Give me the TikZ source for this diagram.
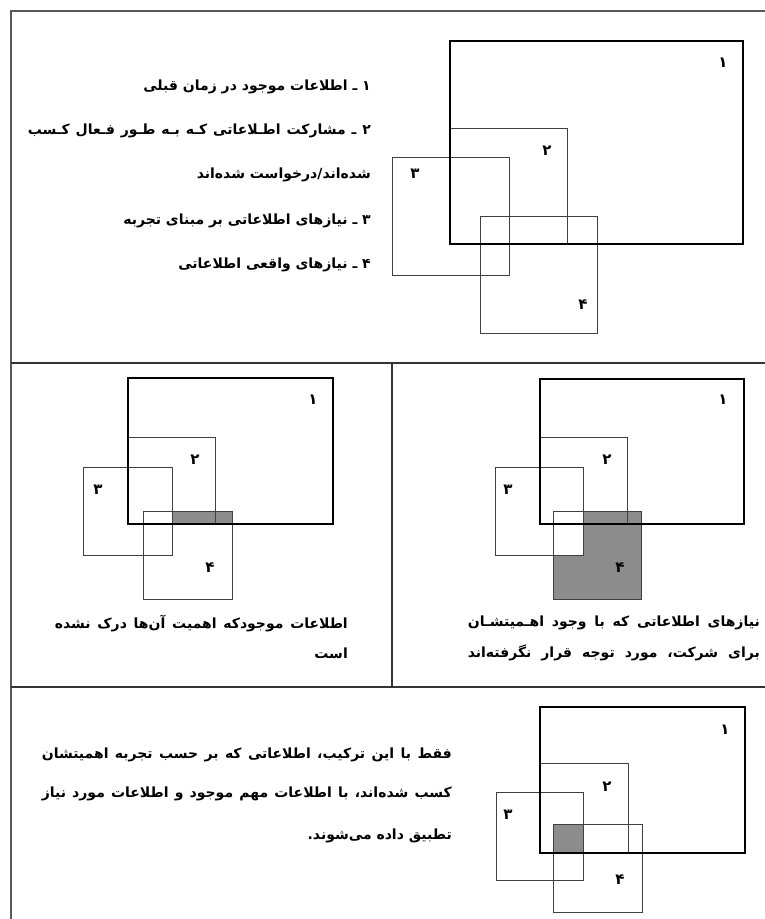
\documentclass[tikz,border=0pt]{standalone}
\usepackage{fontspec}
\newfontfamily\fa[Script=Arabic]{DejaVu Sans}
\TeXXeTstate=1
\tikzset{
  frameline/.style={draw=black!65, line width=1.4pt},
  sepline/.style={draw=black!80, line width=1.1pt},
  bigbox/.style={draw=black, line width=2pt},
  smallbox/.style={draw=black!75, line width=0.8pt},
  hatch/.style={fill=black!45},
  numlbl/.style={font=\fa\bfseries\fontsize{15}{15}\selectfont, inner sep=0pt},
  txt/.style={font=\fa\bfseries\fontsize{14}{16}\selectfont, anchor=east, inner sep=0pt}
}
\begin{document}
\begin{tikzpicture}[x=1pt,y=-1pt]
\useasboundingbox (0,0) rectangle (765,919);
% frame and separators
\coordinate (fTR) at (765,11);
\coordinate (fTL) at (11,11);
\coordinate (fBL) at (11,919);
\draw[frameline] (fTR) -- (fTL) -- (fBL);
\coordinate (s1a) at (11,363); \coordinate (s1b) at (765,363);
\coordinate (s2a) at (392,363); \coordinate (s2b) at (392,687);
\coordinate (s3a) at (11,687); \coordinate (s3b) at (765,687);
\draw[sepline] (s1a) -- (s1b);
\draw[sepline] (s2a) -- (s2b);
\draw[sepline] (s3a) -- (s3b);

% ---------- top panel ----------
\draw[smallbox] (450,128) rectangle (567,244);
\draw[smallbox] (392,157) rectangle (509,275);
\draw[smallbox] (480,216) rectangle (597,333);
\draw[bigbox] (450,41) rectangle (743,244);
\node[numlbl] (a1) at (723,63) {\beginR ۱\endR};
\node[numlbl] (a2) at (547,151) {\beginR ۲\endR};
\node[numlbl] (a3) at (415,174) {\beginR ۳\endR};
\node[numlbl] (a4) at (583,305) {\beginR ۴\endR};
\node[txt] (t1) at (371,87) {\beginR ۱ ـ اطلاعات موجود در زمان قبلی\endR};
\node[txt] (t2) at (371,131) {\hbox to 343pt{\beginR ۲ ـ مشارکت اطـلاعاتی کـه بـه طـور فـعال کـسب\endR}};
\node[txt] (t3) at (371,175) {\beginR شده‌اند/درخواست شده‌اند\endR};
\node[txt] (t4) at (371,221) {\beginR ۳ ـ نیازهای اطلاعاتی بر مبنای تجربه\endR};
\node[txt] (t5) at (371,265) {\beginR ۴ ـ نیازهای واقعی اطلاعاتی\endR};

% ---------- middle left ----------
\fill[hatch] (172,511) rectangle (232,524);
\draw[smallbox] (128,437) rectangle (215,524);
\draw[smallbox] (83,467) rectangle (172,555);
\draw[smallbox] (143,511) rectangle (232,599);
\draw[bigbox] (128,378) rectangle (333,524);
\node[numlbl] (b1) at (313,400) {\beginR ۱\endR};
\node[numlbl] (b2) at (195,460) {\beginR ۲\endR};
\node[numlbl] (b3) at (98,490) {\beginR ۳\endR};
\node[numlbl] (b4) at (210,568) {\beginR ۴\endR};
\node[txt] (u1) at (348,624) {\hbox to 293pt{\beginR اطلاعات موجودکه اهمیت آن‌ها درک نشده\endR}};
\node[txt] (u2) at (348,653) {\beginR است\endR};

% ---------- middle right ----------
\fill[hatch] (583,511) -- (641,511) -- (641,599) -- (553,599) -- (553,555) -- (583,555) -- cycle;
\draw[smallbox] (540,437) rectangle (627,524);
\draw[smallbox] (495,467) rectangle (583,555);
\draw[smallbox] (553,511) rectangle (641,599);
\draw[bigbox] (540,379) rectangle (744,524);
\node[numlbl] (c1) at (723,400) {\beginR ۱\endR};
\node[numlbl] (c2) at (607,460) {\beginR ۲\endR};
\node[numlbl] (c3) at (508,490) {\beginR ۳\endR};
\node[numlbl] (c4) at (620,568) {\beginR ۴\endR};
\node[txt] (v1) at (760,623) {\hbox to 292pt{\beginR نیازهای اطلاعاتی که با وجود اهـمیتشـان\endR}};
\node[txt] (v2) at (760,653) {\hbox to 292pt{\beginR برای شرکت، مورد توجه قرار نگرفته‌اند\endR}};

% ---------- bottom ----------
\fill[hatch] (553,824) rectangle (583,853);
\draw[smallbox] (540,763) rectangle (628,853);
\draw[smallbox] (496,792) rectangle (583,880);
\draw[smallbox] (553,824) rectangle (642,912);
\draw[bigbox] (540,707) rectangle (745,853);
\node[numlbl] (d1) at (725,730) {\beginR ۱\endR};
\node[numlbl] (d2) at (607,787) {\beginR ۲\endR};
\node[numlbl] (d3) at (508,815) {\beginR ۳\endR};
\node[numlbl] (d4) at (620,880) {\beginR ۴\endR};
\node[txt] (w1) at (452,755) {\hbox to 410pt{\beginR فقط با این ترکیب، اطلاعاتی که بر حسب تجربه اهمیتشان\endR}};
\node[txt] (w2) at (452,794) {\hbox to 410pt{\beginR کسب شده‌اند، با اطلاعات مهم موجود و اطلاعات مورد نیاز\endR}};
\node[txt] (w3) at (452,836) {\beginR تطبیق داده می‌شوند.\endR};
\end{tikzpicture}
\end{document}
